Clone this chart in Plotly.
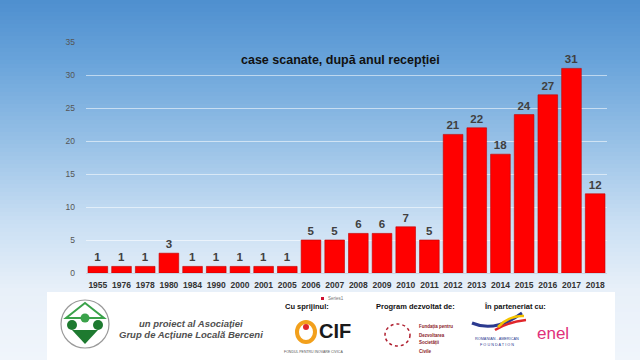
import plotly.graph_objects as go

years = ["1955", "1976", "1978", "1980", "1984", "1990", "2000", "2001", "2005", "2006",
         "2007", "2008", "2009", "2010", "2011", "2012", "2013", "2014", "2015", "2016",
         "2017", "2018"]
counts = [1, 1, 1, 3, 1, 1, 1, 1, 1, 5, 5, 6, 6, 7, 5, 21, 22, 18, 24, 27, 31, 12]
y_ticks = [0, 5, 10, 15, 20, 25, 30, 35]
title_text = "case scanate, după anul recepției"
series_name = "Series1"

W, H = 640, 360
L, R, T, B = 86, 33, 42, 87
PW, PH = W - L - R, H - T - B


def px_x(px):
    return (px - L) / PW


def px_y(py):
    return (H - B - py) / PH


fig = go.Figure()
fig.add_trace(go.Bar(
    x=years, y=counts, name=series_name,
    marker=dict(color="#ff0000", line=dict(color="#c00000", width=0.6)),
    texttemplate="<b>%{y}</b>", textposition="outside",
    textfont=dict(family="Arial, Liberation Sans", size=11.5, color="#404040"),
    cliponaxis=False, showlegend=False,
))

shapes = []
# vertical gradient background
stops = [(0, (78, 143, 207)), (60, (104, 163, 218)), (140, (150, 192, 230)),
         (220, (200, 222, 243)), (290, (232, 240, 249)), (360, (240, 245, 251))]
n = 90
for i in range(n):
    y0 = H * i / n
    y1 = H * (i + 1) / n + 0.6
    ym = (y0 + y1) / 2
    for j in range(len(stops) - 1):
        if stops[j][0] <= ym <= stops[j + 1][0]:
            a, b = stops[j], stops[j + 1]
            f = (ym - a[0]) / (b[0] - a[0])
            c = tuple(round(a[1][k] + f * (b[1][k] - a[1][k])) for k in range(3))
            break
    shapes.append(dict(type="rect", xref="paper", yref="paper", layer="below",
                       x0=px_x(0), x1=px_x(W), y0=px_y(y1), y1=px_y(y0),
                       fillcolor="rgb(%d,%d,%d)" % c, line=dict(width=0)))

# footer white panel
shapes.append(dict(type="rect", xref="paper", yref="paper", layer="above",
                   x0=px_x(47), x1=px_x(615), y0=px_y(361), y1=px_y(292),
                   fillcolor="white", line=dict(width=0)))
# legend swatch
shapes.append(dict(type="rect", xref="paper", yref="paper", layer="above",
                   x0=px_x(321), x1=px_x(324), y0=px_y(300), y1=px_y(297),
                   fillcolor="#d01030", line=dict(width=0)))
# green circle logo
shapes.append(dict(type="circle", xref="paper", yref="paper", layer="above",
                   x0=px_x(61), x1=px_x(109), y0=px_y(348), y1=px_y(300),
                   fillcolor="white", line=dict(color="#9a9a9a", width=1.2)))
shapes.append(dict(type="path", xref="paper", yref="paper", layer="above",
                   path="M %f %f L %f %f L %f %f Z" % (px_x(66), px_y(318), px_x(85), px_y(303), px_x(104), px_y(318)),
                   fillcolor="rgba(0,0,0,0)", line=dict(color="#3aa24a", width=2)))
for cx, cy, r, col in [(72, 325, 5, "#1e7a30"), (85, 318, 4.5, "#3aa24a"), (98, 325, 5, "#1e7a30")]:
    shapes.append(dict(type="circle", xref="paper", yref="paper", layer="above",
                       x0=px_x(cx - r), x1=px_x(cx + r), y0=px_y(cy + r), y1=px_y(cy - r),
                       fillcolor=col, line=dict(width=0)))
shapes.append(dict(type="path", xref="paper", yref="paper", layer="above",
                   path="M %f %f L %f %f L %f %f Z" % (px_x(72), px_y(330), px_x(85), px_y(344), px_x(98), px_y(330)),
                   fillcolor="#1e7a30", line=dict(width=0)))
# CIF logo ring
shapes.append(dict(type="circle", xref="paper", yref="paper", layer="above",
                   x0=px_x(297), x1=px_x(315), y0=px_y(342), y1=px_y(322),
                   fillcolor="rgba(0,0,0,0)", line=dict(color="#f2a01c", width=4)))
shapes.append(dict(type="circle", xref="paper", yref="paper", layer="above",
                   x0=px_x(303), x1=px_x(309), y0=px_y(330), y1=px_y(324),
                   fillcolor="#e0262b", line=dict(width=0)))
# RAF logo swooshes
shapes.append(dict(type="path", xref="paper", yref="paper", layer="above",
                   path="M %f %f Q %f %f %f %f" % (px_x(472), px_y(323), px_x(495), px_y(333), px_x(522), px_y(313)),
                   fillcolor="rgba(0,0,0,0)", line=dict(color="#2b3a8f", width=3)))
shapes.append(dict(type="path", xref="paper", yref="paper", layer="above",
                   path="M %f %f Q %f %f %f %f" % (px_x(495), px_y(330), px_x(508), px_y(322), px_x(526), px_y(320)),
                   fillcolor="rgba(0,0,0,0)", line=dict(color="#e0262b", width=2.5)))
shapes.append(dict(type="path", xref="paper", yref="paper", layer="above",
                   path="M %f %f Q %f %f %f %f" % (px_x(498), px_y(327), px_x(510), px_y(315), px_x(524), px_y(316)),
                   fillcolor="rgba(0,0,0,0)", line=dict(color="#f5c400", width=2.5)))
# FDSC logo ring
shapes.append(dict(type="circle", xref="paper", yref="paper", layer="above",
                   x0=px_x(385), x1=px_x(410), y0=px_y(346), y1=px_y(324),
                   fillcolor="rgba(0,0,0,0)", line=dict(color="#b02030", width=1.5, dash="dot")))

ann = []


def txt(x, y, s, size, color="#222", bold=False, italic=False, family="Arial, Liberation Sans", anchor="center"):
    ss = s
    if bold:
        ss = "<b>%s</b>" % ss
    if italic:
        ss = "<i>%s</i>" % ss
    ann.append(dict(x=px_x(x), y=px_y(y), xref="paper", yref="paper", text=ss, showarrow=False,
                    xanchor=anchor, yanchor="middle", font=dict(size=size, color=color, family=family)))


txt(340, 60, title_text, 12.5, "#111111", bold=True)
txt(326, 298, series_name, 4.5, "#777", anchor="left")
txt(191, 323, "un proiect al Asociației", 9.5, "#505050", bold=True, italic=True)
txt(191, 334, "Grup de Acțiune Locală Berceni", 9.5, "#505050", bold=True, italic=True)
txt(307, 306, "Cu sprijinul:", 7.5, "#111", bold=True)
txt(415, 306, "Program dezvoltat de:", 7.5, "#111", bold=True)
txt(515, 306, "În parteneriat cu:", 7.5, "#111", bold=True)
txt(335, 331, "CIF", 20, "#1a1a1a", bold=True)
txt(313, 352, "FONDUL PENTRU INOVARE CIVICĂ", 3.5, "#555")
txt(417, 327, "Fundația pentru", 4.5, "#8a1a2a", bold=True, anchor="left")
txt(417, 335, "Dezvoltarea", 4.5, "#8a1a2a", bold=True, anchor="left")
txt(417, 343, "Societății", 4.5, "#8a1a2a", bold=True, anchor="left")
txt(417, 351, "Civile", 4.5, "#8a1a2a", bold=True, anchor="left")
txt(497, 339, "ROMANIAN - AMERICAN", 3.8, "#2b3a8f")
txt(497, 345, "F O U N D A T I O N", 3.8, "#2b3a8f")
txt(553, 333, "enel", 17, "#e0307a")

fig.update_layout(
    width=W, height=H, autosize=False,
    margin=dict(l=L, r=R, t=T, b=B, pad=0),
    paper_bgcolor="#eef4fb", plot_bgcolor="rgba(0,0,0,0)",
    bargap=0.17,
    shapes=shapes, annotations=ann,
    showlegend=False,
    font=dict(family="Arial, Liberation Sans"),
)
fig.update_xaxes(type="category", showgrid=False, showline=True, linecolor="#c8d6e6", linewidth=1,
                 ticks="", tickangle=0, tickvals=years, ticktext=["<b>%s</b>" % y for y in years],
                 tickfont=dict(size=8.5, color="#333333", family="Arial, Liberation Sans"),
                 ticklabelstandoff=4)
fig.update_yaxes(range=[0, 35], tickvals=y_ticks, showgrid=True,
                 gridcolor="rgba(255,255,255,0.55)", gridwidth=1, zeroline=False,
                 showline=False, ticks="",
                 tickfont=dict(size=8.5, color="#555555"), ticklabelstandoff=10)

fig.write_html("out.html", config={"displayModeBar": False},
               post_script="document.body.style.margin='0';document.body.style.overflow='hidden';")
